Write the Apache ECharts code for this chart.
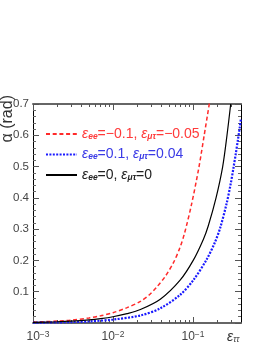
<!DOCTYPE html>
<html><head><meta charset="utf-8">
<script src="https://cdn.jsdelivr.net/npm/echarts@6/dist/echarts.min.js"></script>
<style>html,body{margin:0;padding:0;background:#fff}#c{width:269px;height:349px}</style>
</head><body><div id="c"></div>
<script>
// ---- data ----
const xRed = [0.001,0.002,0.003,0.005,0.007,0.01,0.015,0.022,0.029,0.035,0.045,0.057,0.068,0.078,0.096,0.118,0.138,0.162];
const yRed = [0.003,0.006,0.009,0.016,0.023,0.033,0.049,0.069,0.092,0.114,0.149,0.193,0.238,0.285,0.38,0.495,0.60,0.71];
const xBlue = [0.001,0.002,0.003,0.005,0.01,0.022,0.039,0.069,0.101,0.148,0.188,0.218,0.262,0.296,0.32,0.342,0.365,0.385,0.398];
const yBlue = [0.001,0.002,0.003,0.005,0.011,0.024,0.047,0.090,0.137,0.203,0.258,0.303,0.38,0.445,0.495,0.54,0.587,0.627,0.655];
const xBlack = [0.001,0.002,0.003,0.005,0.007,0.01,0.015,0.022,0.039,0.069,0.101,0.135,0.155,0.194,0.235,0.266,0.296];
const yBlack = [0.002,0.004,0.006,0.010,0.014,0.020,0.030,0.043,0.076,0.137,0.201,0.268,0.31,0.40,0.50,0.60,0.70];
const xMajorTicks = [0.001,0.01,0.1];
const xMinorTicks = [0.002,0.003,0.004,0.005,0.006,0.007,0.008,0.009,0.02,0.03,0.04,0.05,0.06,0.07,0.08,0.09,0.2,0.3];
const xLabelExp = {"0.001":"−3","0.01":"−2","0.1":"−1"};
const legendNames = ['red','blue','black'];
const legendParts = {
  red:  [['ee','=−0.1, '],['μτ','=−0.05']],
  blue: [['ee','=0.1, '],['μτ','=0.04']],
  black:[['ee','=0, '],['μτ','=0']]
};
const colors = {red:'#ff2a2a', blue:'#1a1aff', black:'#000000'};
const textColors = {red:'#ff3a3a', blue:'#3a3ae6', black:'#222222'};

const zip = (a,b)=>a.map((v,i)=>[v,b[i]]);
const XMIN = 0.001, XMAX = 0.398;
const FONT = '"Liberation Sans", Arial, sans-serif';

const rich = {};
for (const k of legendNames) {
  rich['e'+k] = {fontFamily:FONT, fontStyle:'italic', fontSize:14, color:textColors[k], lineHeight:14};
  rich['s'+k] = {fontFamily:FONT, fontStyle:'italic', fontWeight:'bold', fontSize:8.5, color:textColors[k], verticalAlign:'bottom', lineHeight:14};
  rich['t'+k] = {fontFamily:FONT, fontSize:14, color:textColors[k], lineHeight:14};
}

function xAxisDef(pos, ticks, len, showLine, labels) {
  return {
    type:'log', position:pos, min:XMIN, max:XMAX, logBase:10,
    axisLine:{show:showLine, lineStyle:{color:'#666', width:2}},
    axisTick:{show:true, inside:true, length:len, customValues:ticks, lineStyle:{color:'#555', width:1}},
    axisLabel: labels ? {
      show:true, customValues:xMajorTicks, margin:7,
      formatter:(v)=>{
        const key = String(+v.toPrecision(3));
        const e = xLabelExp[key] || '';
        return (key==='0.001' ? '{sp|}' : '') + '{b|10}{s|' + e + '}';
      },
      rich:{
        sp:{width:10},
        b:{fontFamily:FONT, fontSize:12, color:'#444', lineHeight:13},
        s:{fontFamily:FONT, fontSize:8.5, color:'#444', verticalAlign:'top', lineHeight:13}
      }
    } : {show:false},
    splitLine:{show:false}
  };
}
function yAxisDef(pos, labels) {
  return {
    type:'value', position:pos, min:0, max:0.7, interval:0.1,
    axisLine:{show:true, lineStyle:{color:'#000', width:1}},
    axisTick:{show:true, inside:true, length:6, lineStyle:{color:'#555'}},
    minorTick:{show:true, splitNumber:5, length:3, lineStyle:{color:'#666'}},
    axisLabel: labels ? {
      show:true, margin:4, color:'#444', fontFamily:FONT, fontSize:11.5,
      formatter:(v)=> v < 0.05 ? '' : v.toFixed(1)
    } : {show:false},
    splitLine:{show:false}, minorSplitLine:{show:false}
  };
}

const chart = echarts.init(document.getElementById('c'), null, {renderer:'canvas'});
chart.setOption({
  animation:false,
  backgroundColor:'#fff',
  grid:{left:33, right:28, top:104, bottom:26},
  xAxis:[
    xAxisDef('bottom', xMajorTicks, 6, true, true),
    xAxisDef('bottom', xMinorTicks, 3, false, false),
    xAxisDef('top', xMajorTicks, 6, true, false),
    xAxisDef('top', xMinorTicks, 3, false, false)
  ],
  yAxis:[ yAxisDef('left', true), yAxisDef('right', false) ],
  legend:{
    orient:'vertical', left:40, top:122, itemWidth:31, itemHeight:14, itemGap:6.5,
    selectedMode:false,
    itemStyle:{opacity:0},
    data: legendNames.map(n=>({name:n})),
    formatter:(n)=> legendParts[n].map(p=>'{e'+n+'|ε}{s'+n+'|'+p[0]+'}{t'+n+'|'+p[1]+'}').join(''),
    textStyle:{rich:rich, fontSize:14, fontFamily:FONT}
  },
  graphic:[
    {type:'text', x:8, y:95, rotation:Math.PI/2,
     style:{text:'α (rad)', fontFamily:FONT, fontSize:16, fill:'#333', align:'right', verticalAlign:'middle'}},
    {type:'text', x:227, y:331,
     style:{text:'{e|ε}{s|ττ}', rich:{
       e:{fontFamily:FONT, fontStyle:'italic', fontSize:14, fill:'#333', lineHeight:13},
       s:{fontFamily:FONT, fontStyle:'italic', fontSize:8.5, fill:'#333', verticalAlign:'bottom', lineHeight:13}
     }}}
  ],
  series:[
    {name:'red', type:'line', data:zip(xRed,yRed), showSymbol:false, symbol:'none',
     smooth:0.3, lineStyle:{color:colors.red, width:1.5, type:[4,2.7]}, itemStyle:{color:colors.red}},
    {name:'blue', type:'line', data:zip(xBlue,yBlue), showSymbol:false, symbol:'none',
     smooth:0.3, lineStyle:{color:colors.blue, width:2.2, type:[2,1.4]}, itemStyle:{color:colors.blue}},
    {name:'black', type:'line', data:zip(xBlack,yBlack), showSymbol:false, symbol:'none',
     smooth:0.3, lineStyle:{color:colors.black, width:1.2}, itemStyle:{color:colors.black}}
  ]
});
</script></body></html>
